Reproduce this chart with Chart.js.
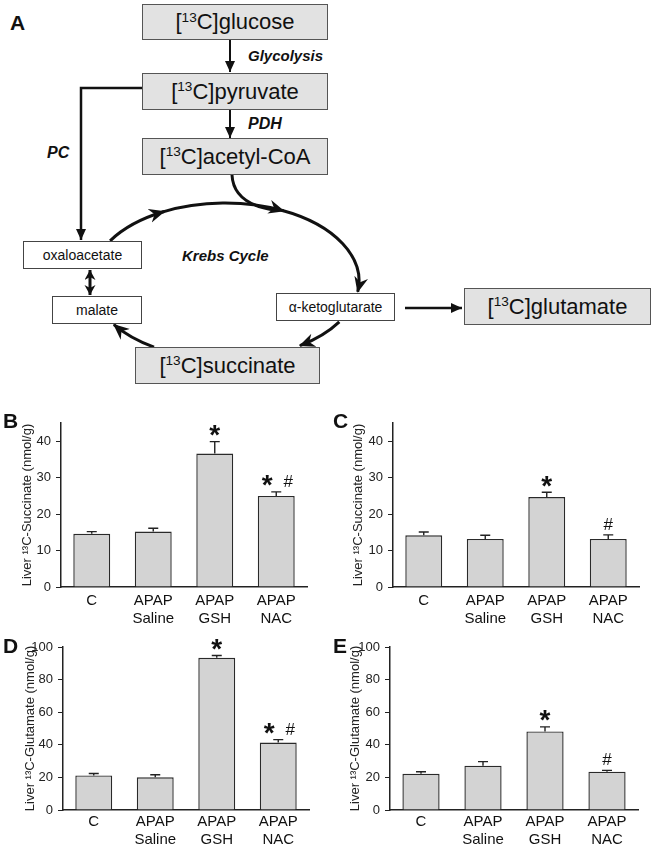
<!DOCTYPE html>
<html><head><meta charset="utf-8">
<script src="https://cdn.jsdelivr.net/npm/chart.js@4.4.1/dist/chart.umd.min.js"></script>
<style>
html,body{margin:0;padding:0;background:#fff;}
body{width:652px;height:849px;position:relative;overflow:hidden;font-family:"Liberation Sans",Arial,sans-serif;color:#111;}
.box{position:absolute;box-sizing:border-box;display:flex;align-items:center;justify-content:center;white-space:nowrap;}
.big{background:#e2e2e2;border:1.5px solid #555;font-size:22px;}
.small{background:#fff;border:1px solid #444;font-size:14px;}
.lab{position:absolute;font-weight:bold;font-size:21px;line-height:21px;}
.it{position:absolute;font-weight:bold;font-style:italic;white-space:nowrap;}
sup{font-size:0.62em;vertical-align:0;position:relative;top:-0.36em;}
canvas{position:absolute;}
svg{position:absolute;left:0;top:0;}
</style>
</head><body>
<svg width="652" height="400" id="diag">
 <defs>
  <marker id="ahS" markerUnits="userSpaceOnUse" markerWidth="14" markerHeight="12" refX="11" refY="5" orient="auto"><path d="M0,0 L11,5 L0,10 z" fill="#111"/></marker>
  <marker id="ahM" markerUnits="userSpaceOnUse" markerWidth="14" markerHeight="14" refX="10" refY="5.5" orient="auto-start-reverse"><path d="M0,0 L10,5.5 L0,11 L3,5.5 z" fill="#111"/></marker>
  <marker id="ahL" markerUnits="userSpaceOnUse" markerWidth="18" markerHeight="16" refX="15" refY="7" orient="auto"><path d="M0,0 L16,7 L0,14 L5,7 z" fill="#111"/></marker>
 </defs>
 <g id="arrows" stroke="#111" fill="none"></g>
</svg>

<div class="lab" style="left:10px;top:12px;">A</div>
<div class="box big" style="left:142px;top:4px;width:186px;height:36px;">[<sup>13</sup>C]glucose</div>
<div class="it" style="left:248px;top:48px;font-size:15px;line-height:15px;">Glycolysis</div>
<div class="box big" style="left:142px;top:73px;width:186px;height:37px;">[<sup>13</sup>C]pyruvate</div>
<div class="it" style="left:248px;top:116px;font-size:16px;line-height:16px;">PDH</div>
<div class="it" style="left:47px;top:145px;font-size:16px;line-height:16px;">PC</div>
<div class="box big" style="left:142px;top:138px;width:186px;height:37px;">[<sup>13</sup>C]acetyl-CoA</div>
<div class="it" style="left:182px;top:248px;font-size:15px;line-height:15px;">Krebs Cycle</div>
<div class="box small" style="left:23px;top:241px;width:119px;height:28px;">oxaloacetate</div>
<div class="box small" style="left:52px;top:296px;width:90px;height:28px;">malate</div>
<div class="box small" style="left:276px;top:293px;width:119px;height:28px;">α-ketoglutarate</div>
<div class="box big" style="left:464px;top:288px;width:187px;height:37px;">[<sup>13</sup>C]glutamate</div>
<div class="box big" style="left:135px;top:347px;width:185px;height:37px;">[<sup>13</sup>C]succinate</div>

<canvas id="cB" width="330" height="235" style="left:0px;top:395px;"></canvas>
<canvas id="cC" width="326" height="235" style="left:326px;top:395px;"></canvas>
<canvas id="cD" width="330" height="217" style="left:0px;top:632px;"></canvas>
<canvas id="cE" width="326" height="217" style="left:326px;top:632px;"></canvas>
<div class="lab" style="left:3px;top:410px;">B</div>
<div class="lab" style="left:333px;top:410px;">C</div>
<div class="lab" style="left:3px;top:635px;">D</div>
<div class="lab" style="left:333px;top:635px;">E</div>

<script>
// ---- data ----
const categories = [['C'], ['APAP', 'Saline'], ['APAP', 'GSH'], ['APAP', 'NAC']];

const succinateB = [14.6, 15.2, 36.6, 25.0];
const succinateErrB = [0.6, 0.9, 3.3, 1.1];
const starB = [false, false, true, true];
const hashB = [false, false, false, true];

const succinateC = [14.2, 13.2, 24.7, 13.2];
const succinateErrC = [0.9, 1.0, 1.3, 1.1];
const starC = [false, false, true, false];
const hashC = [false, false, false, true];

const glutamateD = [21.2, 20.1, 93.4, 41.4];
const glutamateErrD = [1.2, 1.5, 1.4, 1.8];
const starD = [false, false, true, true];
const hashD = [false, false, false, true];

const glutamateE = [22.2, 27.2, 48.2, 23.5];
const glutamateErrE = [1.3, 2.5, 2.8, 0.8];
const starE = [false, false, true, false];
const hashE = [false, false, false, true];

const succinateTicks = [0, 10, 20, 30, 40];
const glutamateTicks = [0, 20, 40, 60, 80, 100];

const succinateTitle = 'Liver \u00B9\u00B3C-Succinate (nmol/g)';
const glutamateTitle = 'Liver \u00B9\u00B3C-Glutamate (nmol/g)';

// ---- pathway diagram arrows ----
(function(){
  const g = document.getElementById('arrows');
  const NS = 'http://www.w3.org/2000/svg';
  function add(d, w, endM, startM){
    const p = document.createElementNS(NS, 'path');
    p.setAttribute('d', d); p.setAttribute('stroke-width', w);
    if (endM) p.setAttribute('marker-end', 'url(#' + endM + ')');
    if (startM) p.setAttribute('marker-start', 'url(#' + startM + ')');
    g.appendChild(p);
  }
  const cx = 225, cy = 281, rx = 134, ry = 78;
  function ep(t){ const r = t*Math.PI/180; return [cx + rx*Math.cos(r), cy + ry*Math.sin(r)]; }
  function arc(t0, t1){ const a = ep(t0), b = ep(t1); return 'M' + a[0].toFixed(1) + ',' + a[1].toFixed(1) + ' A' + rx + ',' + ry + ' 0 0 1 ' + b[0].toFixed(1) + ',' + b[1].toFixed(1); }
  add('M230,40 L230,72', 2, 'ahS');
  add('M230,110 L230,138', 2, 'ahS');
  add('M142,88 L81,88 L81,240', 2.5, 'ahS');
  add('M90,270 L90,295', 3, 'ahM', 'ahM');
  add('M405,308 L462,308', 2.5, 'ahS');
  add('M232,175 C233,195 248,206 274,210', 3);
  add(arc(-149, -117), 3, 'ahL');
  add(arc(-118, -64), 3, 'ahL');
  add(arc(-65, 8), 3, 'ahL');
  add(arc(31.5, 56), 3, 'ahL');
  add(arc(122, 146), 3, 'ahL');
})();

// ---- charts ----
function makeChart(id, cl, ct, cw, ch, area, values, errs, stars, hashes, tickVals, yMax, title, titleCx, xPad){
  const padTop = area.top - ct, padRight = cl + cw - area.right;
  const yW = area.left - cl, xH = ct + ch - area.bottom;
  const titleSize = 13;
  const extras = {
    id: 'extras',
    afterDatasetsDraw(chart){
      const ctx = chart.ctx, ys = chart.scales.y, meta = chart.getDatasetMeta(0);
      ctx.save();
      ctx.strokeStyle = '#222'; ctx.lineWidth = 1.4;
      meta.data.forEach((bar, i) => {
        const x = bar.x, y0 = ys.getPixelForValue(values[i]), y1 = ys.getPixelForValue(values[i] + errs[i]);
        ctx.beginPath(); ctx.moveTo(x, y0); ctx.lineTo(x, y1);
        ctx.moveTo(x - 5, y1); ctx.lineTo(x + 5, y1); ctx.stroke();
        const cyMark = y1 - 11;
        const both = stars[i] && hashes[i];
        ctx.fillStyle = '#111'; ctx.textAlign = 'center'; ctx.textBaseline = 'alphabetic';
        if (stars[i]) {
          ctx.font = 'bold 28px "Liberation Sans", Arial, sans-serif';
          const m = ctx.measureText('*');
          ctx.fillText('*', both ? x - 9 : x, cyMark + (m.actualBoundingBoxAscent - m.actualBoundingBoxDescent)/2);
        }
        if (hashes[i]) {
          ctx.font = '17px "Liberation Sans", Arial, sans-serif';
          const m = ctx.measureText('#');
          ctx.fillText('#', both ? x + 12 : x, cyMark + (m.actualBoundingBoxAscent - m.actualBoundingBoxDescent)/2);
        }
      });
      ctx.restore();
    }
  };
  return new Chart(document.getElementById(id), {
    type: 'bar',
    data: { labels: categories, datasets: [{ data: values, backgroundColor: '#d3d3d3', borderColor: '#2a2a2a', borderWidth: 1.4, categoryPercentage: 1, barPercentage: 0.6 }] },
    options: {
      responsive: false, animation: false, events: [],
      layout: { padding: { top: padTop, right: padRight, left: 0, bottom: 0 } },
      plugins: { legend: { display: false }, tooltip: { enabled: false } },
      scales: {
        x: {
          grid: { display: false, drawTicks: false },
          border: { display: true, color: '#222', width: 1.5 },
          ticks: { color: '#111', padding: xPad, maxRotation: 0, autoSkip: false, font: { family: '"Liberation Sans", Arial, sans-serif', size: 15, lineHeight: 1.25 } },
          afterFit(s){ s.height = xH; }
        },
        y: {
          min: 0, max: yMax,
          grid: { drawOnChartArea: false, drawTicks: true, tickLength: 5, color: '#222', lineWidth: 1 },
          border: { display: true, color: '#222', width: 1.5 },
          ticks: { color: '#222', padding: 5, stepSize: tickVals[1] - tickVals[0], font: { family: '"Liberation Sans", Arial, sans-serif', size: 13 } },
          afterBuildTicks(s){ s.ticks = tickVals.map(v => ({ value: v })); },
          title: { display: true, text: title, color: '#222', font: { family: '"Liberation Sans", Arial, sans-serif', size: titleSize }, padding: { top: titleCx - cl - titleSize*1.2/2, bottom: 0 } },
          afterFit(s){ s.width = yW; }
        }
      }
    },
    plugins: [extras]
  });
}

makeChart('cB', 0, 395, 330, 235, {left: 61, right: 307, top: 423, bottom: 587}, succinateB, succinateErrB, starB, hashB, succinateTicks, 45, succinateTitle, 27, 4);
makeChart('cC', 326, 395, 326, 235, {left: 393, right: 639, top: 423, bottom: 587}, succinateC, succinateErrC, starC, hashC, succinateTicks, 45, succinateTitle, 358, 4);
makeChart('cD', 0, 632, 330, 217, {left: 63, right: 309, top: 647, bottom: 810}, glutamateD, glutamateErrD, starD, hashD, glutamateTicks, 100, glutamateTitle, 30, 2);
makeChart('cE', 326, 632, 326, 217, {left: 390, right: 638, top: 647, bottom: 810}, glutamateE, glutamateErrE, starE, hashE, glutamateTicks, 100, glutamateTitle, 355, 2);
</script>
</body></html>
